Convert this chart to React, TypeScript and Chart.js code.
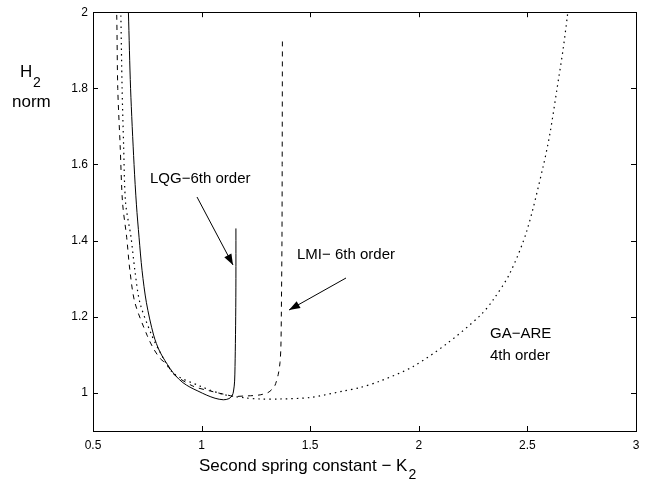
import React, { useEffect, useRef } from "react";
import { Chart, registerables } from "chart.js";

Chart.register(...registerables);

// ---- data ----
const lqgK2 = [0.657, 0.663, 0.673, 0.689, 0.700, 0.712, 0.726, 0.746, 0.779, 0.808, 0.855, 0.882, 0.914, 0.947, 0.983, 1.024, 1.062, 1.100, 1.126, 1.141, 1.147, 1.152, 1.155, 1.157, 1.158, 1.158];
const lqgH2 = [2.1, 2.0, 1.8, 1.6, 1.494, 1.409, 1.321, 1.237, 1.152, 1.108, 1.064, 1.044, 1.027, 1.015, 1.005, 0.994, 0.986, 0.982, 0.985, 0.993, 1.005, 1.031, 1.108, 1.2, 1.3, 1.432];

const lmiK2 = [0.6, 0.609, 0.614, 0.625, 0.636, 0.655, 0.67, 0.693, 0.75, 0.78, 0.81, 0.84, 0.87, 0.96, 1.04, 1.115, 1.15, 1.2, 1.237, 1.27, 1.306, 1.325, 1.338, 1.353, 1.361, 1.365, 1.367, 1.37, 1.371, 1.372];
const lmiH2 = [2.15, 2.0, 1.8, 1.65, 1.5, 1.409, 1.321, 1.237, 1.15, 1.115, 1.09, 1.075, 1.05, 1.018, 1.005, 0.995, 0.991, 0.992, 0.993, 0.995, 1.001, 1.01, 1.02, 1.049, 1.08, 1.12, 1.2, 1.4, 1.6, 1.925];

const gaK2 = [0.622, 0.628, 0.634, 0.641, 0.65, 0.675, 0.693, 0.716, 0.77, 0.808, 0.87, 0.993, 1.1, 1.2, 1.269, 1.361, 1.499, 1.653, 1.729, 1.821, 1.973, 2.128, 2.282, 2.343, 2.42, 2.497, 2.573, 2.604, 2.635, 2.665, 2.684, 2.692];
const gaH2 = [2.15, 2.0, 1.8, 1.65, 1.5, 1.409, 1.321, 1.237, 1.152, 1.108, 1.052, 1.018, 0.996, 0.987, 0.984, 0.984, 0.988, 1.005, 1.014, 1.031, 1.069, 1.129, 1.203, 1.245, 1.315, 1.425, 1.596, 1.682, 1.794, 1.905, 1.99, 2.03];

const xTicks = [0.5, 1, 1.5, 2, 2.5, 3];
const xTickLabels = ["0.5", "1", "1.5", "2", "2.5", "3"];
const yTicks = [1, 1.2, 1.4, 1.6, 1.8, 2];
const yTickLabels = ["1", "1.2", "1.4", "1.6", "1.8", "2"];

const seriesNames = ["LQG-6th order", "LMI- 6th order", "GA-ARE 4th order"];

const FONT = "'Liberation Sans', Arial, Helvetica, sans-serif";

function toPts(xs: number[], ys: number[]) {
  return xs.map((x, i) => ({ x, y: ys[i] }));
}

function drawArrow(ctx: CanvasRenderingContext2D, x1: number, y1: number, x2: number, y2: number) {
  ctx.beginPath();
  ctx.moveTo(x1, y1);
  ctx.lineTo(x2, y2);
  ctx.stroke();
  const ang = Math.atan2(y2 - y1, x2 - x1);
  const len = 11;
  const w = 4;
  const bx = x2 - len * Math.cos(ang);
  const by = y2 - len * Math.sin(ang);
  ctx.beginPath();
  ctx.moveTo(x2, y2);
  ctx.lineTo(bx + w * Math.sin(ang), by - w * Math.cos(ang));
  ctx.lineTo(bx - w * Math.sin(ang), by + w * Math.cos(ang));
  ctx.closePath();
  ctx.fill();
}

const matlabBox = {
  id: "matlabBox",
  afterDraw(chart: any) {
    const { ctx, chartArea, scales } = chart;
    const { left, top, right, bottom } = chartArea;
    const xs = scales.x;
    const ys = scales.y;
    ctx.save();
    ctx.strokeStyle = "#000";
    ctx.fillStyle = "#000";
    ctx.lineWidth = 1;
    ctx.strokeRect(Math.round(left) + 0.5, Math.round(top) + 0.5, Math.round(right - left), Math.round(bottom - top));
    const tl = 5;
    xTicks.forEach((v) => {
      const px = Math.round(xs.getPixelForValue(v)) + 0.5;
      ctx.beginPath();
      ctx.moveTo(px, bottom);
      ctx.lineTo(px, bottom - tl);
      ctx.moveTo(px, top);
      ctx.lineTo(px, top + tl);
      ctx.stroke();
    });
    yTicks.forEach((v) => {
      const py = Math.round(ys.getPixelForValue(v)) + 0.5;
      ctx.beginPath();
      ctx.moveTo(left, py);
      ctx.lineTo(left + tl, py);
      ctx.moveTo(right, py);
      ctx.lineTo(right - tl, py);
      ctx.stroke();
    });

    // annotations
    ctx.textBaseline = "alphabetic";
    ctx.textAlign = "left";
    ctx.font = `15px ${FONT}`;
    ctx.fillText("LQG\u22126th order", 150, 183);
    ctx.fillText("LMI\u2212 6th order", 297, 259);
    ctx.fillText("GA\u2212ARE", 490, 338);
    ctx.fillText("4th order", 490, 360);

    drawArrow(ctx, 197, 197, 233, 265);
    drawArrow(ctx, 346, 278, 289, 310);

    // axis titles
    ctx.font = `17px ${FONT}`;
    ctx.fillText("Second spring constant \u2212 K", 199, 471);
    const wK = ctx.measureText("Second spring constant \u2212 K").width;
    ctx.font = `14px ${FONT}`;
    ctx.fillText("2", 199 + wK + 1, 479);

    ctx.font = `17px ${FONT}`;
    ctx.fillText("H", 20, 77);
    ctx.font = `14px ${FONT}`;
    ctx.fillText("2", 33, 87);
    ctx.font = `17px ${FONT}`;
    ctx.fillText("norm", 12, 107);
    ctx.restore();
  },
};

export default function App() {
  const ref = useRef<HTMLCanvasElement | null>(null);
  useEffect(() => {
    document.body.style.margin = "0";
    if (!ref.current) return;
    Chart.defaults.font.family = FONT;
    Chart.defaults.color = "#000";
    const common = {
      borderColor: "#000",
      borderWidth: 1,
      pointRadius: 0,
      showLine: true,
      fill: false,
      tension: 0.3,
    };
    const chart = new Chart(ref.current, {
      type: "scatter",
      data: {
        datasets: [
          { ...common, label: seriesNames[0], data: toPts(lqgK2, lqgH2) },
          { ...common, label: seriesNames[1], data: toPts(lmiK2, lmiH2), borderDash: [5, 5] },
          { ...common, label: seriesNames[2], data: toPts(gaK2, gaH2), borderDash: [1.5, 4], borderWidth: 1.2 },
        ],
      },
      options: {
        animation: false,
        responsive: false,
        layout: { padding: { left: 0, top: 3, right: 21, bottom: 0 } },
        plugins: { legend: { display: false }, tooltip: { enabled: false } },
        scales: {
          x: {
            type: "linear",
            min: 0.5,
            max: 3,
            grid: { display: false, drawTicks: false },
            border: { display: false },
            afterBuildTicks: (s: any) => {
              s.ticks = xTicks.map((value) => ({ value }));
            },
            afterFit: (s: any) => {
              s.height = 53;
            },
            ticks: {
              padding: 7,
              maxRotation: 0,
              font: { size: 12 },
              callback: (v: any) => {
                const i = xTicks.indexOf(Number(v));
                return i >= 0 ? xTickLabels[i] : "";
              },
            },
          },
          y: {
            type: "linear",
            min: 0.9,
            max: 2,
            grid: { display: false, drawTicks: false },
            border: { display: false },
            afterBuildTicks: (s: any) => {
              s.ticks = yTicks.map((value) => ({ value }));
            },
            afterFit: (s: any) => {
              s.width = 93;
            },
            ticks: {
              padding: 5,
              font: { size: 12 },
              callback: (v: any) => {
                const i = yTicks.indexOf(Number(v));
                return i >= 0 ? yTickLabels[i] : "";
              },
            },
          },
        },
      },
      plugins: [matlabBox],
    } as any);
    return () => chart.destroy();
  }, []);
  return (
    <div style={{ position: "absolute", left: 0, top: 0, width: 657, height: 484 }}>
      <canvas ref={ref} width={657} height={484} />
    </div>
  );
}
